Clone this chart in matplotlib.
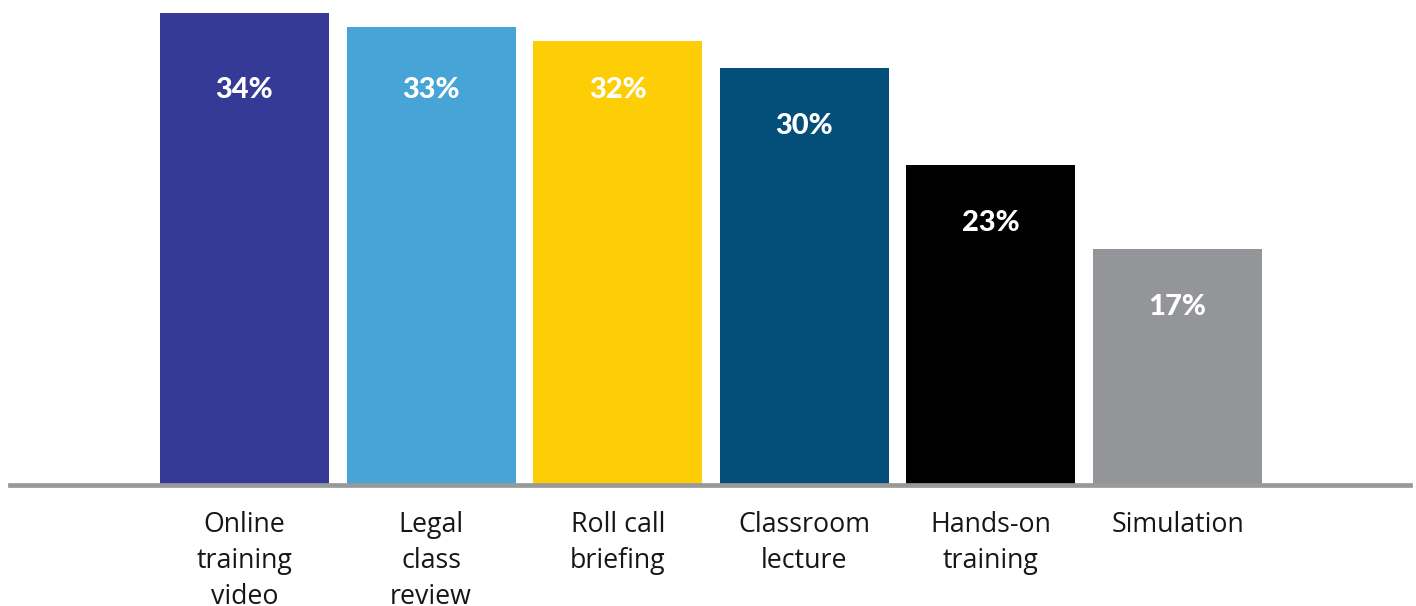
import matplotlib
matplotlib.use("Agg")
import matplotlib.pyplot as plt

# training methods and share of respondents (%)
categories = ["Online\ntraining\nvideo", "Legal\nclass\nreview", "Roll call\nbriefing",
              "Classroom\nlecture", "Hands-on\ntraining", "Simulation"]
values = [34, 33, 32, 30, 23, 17]
colors = ["#343a96", "#47a4d7", "#fdcd06", "#044f7a", "#000000", "#949598"]

plt.rcParams['font.family'] = ['Lato', 'DejaVu Sans']

fig = plt.figure(figsize=(14.16, 6.06), dpi=100)
ax = fig.add_axes([10 / 1416, 121.5 / 606, 1400 / 1416, 484.5 / 606])

x = list(range(len(values)))
ax.bar(x, values, width=0.905, color=colors, zorder=2)

# value labels sit inside the bars; the tallest ones share one height
for xi, v in zip(x, values):
    ly = 27.85 if v >= 32 else v - 4.75
    ax.text(xi, ly, f"{v}%", ha="center", va="baseline",
            color="white", fontsize=21, fontweight="black")

ax.axhline(0, color="#999999", lw=3.4, zorder=3, clip_on=False)

ax.set_xlim(-1.257, 6.246)
ax.set_ylim(0, 34.93)
ax.set_xticks(x)
ax.set_xticklabels(categories, fontsize=19.3, linespacing=1.39,
                   color="#161616", family=["Open Sans", "DejaVu Sans"])
ax.tick_params(axis="x", length=0, pad=19)
ax.set_yticks([])
for s in ax.spines.values():
    s.set_visible(False)

fig.savefig("out.png", dpi=100)
